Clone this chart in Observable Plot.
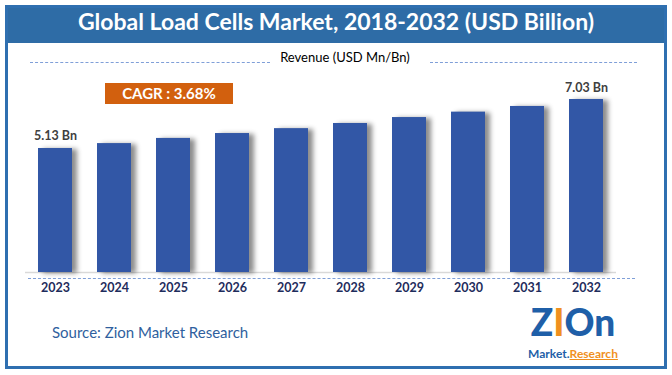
<!DOCTYPE html>
<html>
<head>
<meta charset="utf-8">
<script src="https://cdn.jsdelivr.net/npm/d3@7"></script>
<script src="https://cdn.jsdelivr.net/npm/@observablehq/plot@0.6"></script>
<style>
  html, body { margin: 0; padding: 0; background: #fff; }
  #wrap { position: relative; width: 672px; height: 375px; overflow: hidden; font-family: Lato, "Open Sans", sans-serif; }
  #frame { position: absolute; left: 5px; top: 5px; width: 656px; height: 358px; border: 3px solid #2f6fb0; }
  #band { position: absolute; left: 5px; top: 5px; width: 662px; height: 38px; background: #2e6ca6; }
  #title { position: absolute; left: 0; top: 7px; width: 672px; text-align: center; color: #fff; font-weight: bold; font-size: 23px; }
  #rev { position: absolute; left: 0; top: 49px; width: 690px; text-align: center; color: #000; font-size: 13px; }
  .dash { position: absolute; height: 0; border-top: 1.5px dashed #7f9fd8; }
  #cagr { position: absolute; left: 105px; top: 83px; width: 128px; height: 21px; background: #d2600e; color: #fff; font-weight: bold; font-size: 15px; text-align: center; line-height: 21px; }
  #source { position: absolute; left: 52px; top: 323px; color: #2f5f9e; font-size: 15px; }
  #plot { position: absolute; left: 0; top: 0; }
  #logoBig { position: absolute; left: 518px; top: 303px; width: 110px; text-align: center; font-size: 37px; font-weight: 900; line-height: 38px; height: 38px; letter-spacing: 0px; }
  #logoSmall { position: absolute; left: 518px; top: 347px; width: 110px; text-align: center; font-size: 12px; font-weight: bold; line-height: 13px; height: 13px; }
</style>
</head>
<body>
<div id="wrap">
  <div id="band"></div>
  <div id="frame"></div>
  <div id="title">Global Load Cells Market, 2018-2032 (USD Billion)</div>
  <div class="dash" style="left:30px; top:62px; width:240px;"></div>
  <div class="dash" style="left:430px; top:62px; width:207px;"></div>
  <div id="rev">Revenue (USD Mn/Bn)</div>
  <div class="dash" style="left:28px; top:278px; width:607px;"></div>
  <div id="cagr">CAGR : 3.68%</div>
  <div id="source">Source: Zion Market Research</div>
  <div id="logoBig"><span style="color:#1f5fa8">Z</span><span style="color:#f0901e">I</span><span style="color:#1f5fa8">On</span></div>
  <div id="logoSmall"><span style="color:#1f5fa8">Market.</span><span style="color:#f0901e; text-decoration: underline;">Research</span></div>
</div>
<script>
const years = ["2023","2024","2025","2026","2027","2028","2029","2030","2031","2032"];
const values = [5.13, 5.32, 5.52, 5.71, 5.90, 6.10, 6.33, 6.54, 6.76, 7.03];
const labels = ["5.13 Bn", "", "", "", "", "", "", "", "", "7.03 Bn"];
const data = years.map((y, i) => ({year: y, value: values[i], label: labels[i]}));

const chart = Plot.plot({
  width: 672,
  height: 375,
  marginLeft: 25,
  marginRight: 56,
  marginTop: 99,
  marginBottom: 103,
  style: {background: "transparent", fontFamily: "Lato, sans-serif", overflow: "visible"},
  x: {domain: years, paddingInner: 0.424, paddingOuter: 0.212, label: null},
  y: {domain: [0.32, 7.03], range: [272, 99], clamp: true, axis: null},
  marks: [
    Plot.ruleY([0], {stroke: "#d9d9d9", strokeWidth: 1.5}),
    Plot.barY(data, {x: "year", y: "value", fill: "#3257a6"}),
    Plot.text(data, {x: "year", y: "value", text: "label", dy: -12, fill: "#404040", fontWeight: "bold", fontSize: 12.5}),
    Plot.axisX({tickSize: 0, tickPadding: 11, fontSize: 12.5, fontWeight: "bold", fill: "#1f2d5c", label: null})
  ]
});
chart.id = "plot";
document.getElementById("wrap").appendChild(chart);
const bars = chart.querySelector('g[aria-label="bar"]');
if (bars) bars.style.filter = "drop-shadow(5px 1px 2.5px rgba(0,0,0,0.45))";
</script>
</body>
</html>
